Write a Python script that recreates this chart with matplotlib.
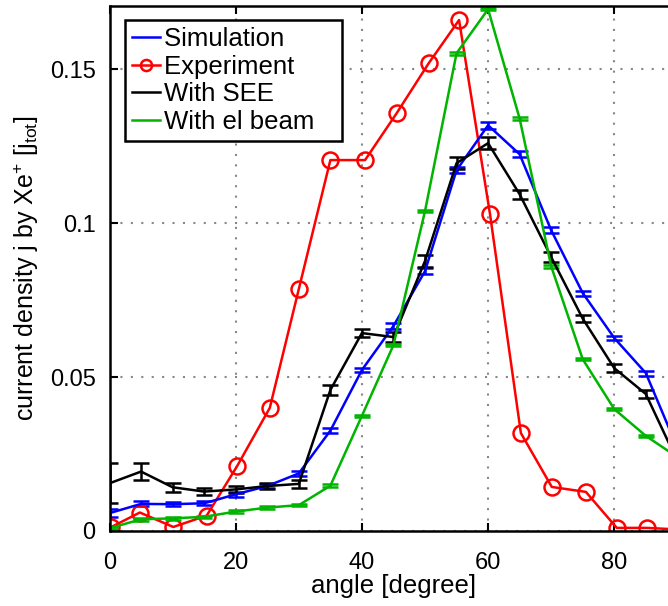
import matplotlib
matplotlib.use("Agg")
import matplotlib.pyplot as plt
from matplotlib.lines import Line2D

plt.rcParams['font.family'] = ['Liberation Sans', 'DejaVu Sans']
plt.rcParams['mathtext.default'] = 'regular'

# simulation angles (degree)
ang = [0, 5, 10, 15, 20, 25, 30, 35, 40, 45, 50, 55, 60, 65, 70, 75, 80, 85, 90]

sim = [0.0058, 0.0088, 0.0087, 0.0090, 0.0119, 0.0146, 0.0187, 0.0326, 0.0523, 0.0666,
       0.0844, 0.1172, 0.1318, 0.1224, 0.0977, 0.0773, 0.0627, 0.0513, 0.0270]
sim_err = [0.0012, 0.0008, 0.0006, 0.0006, 0.0007, 0.0006, 0.0008, 0.0008, 0.0008, 0.0010,
           0.0010, 0.0010, 0.0012, 0.0010, 0.0010, 0.0008, 0.0008, 0.0008, 0.0008]

see = [0.0155, 0.0193, 0.0142, 0.0128, 0.0135, 0.0146, 0.0153, 0.0458, 0.0643, 0.0630,
       0.0877, 0.1195, 0.1260, 0.1094, 0.0890, 0.0690, 0.0529, 0.0445, 0.0227]
see_err = [0.0065, 0.0027, 0.0014, 0.0012, 0.0012, 0.0010, 0.0012, 0.0015, 0.0012, 0.0015,
           0.0018, 0.0019, 0.0020, 0.0015, 0.0015, 0.0012, 0.0012, 0.0012, 0.0012]

beam = [0.0009, 0.0038, 0.0041, 0.0046, 0.0063, 0.0076, 0.0084, 0.0147, 0.0374, 0.0604,
        0.1039, 0.1552, 0.1695, 0.1340, 0.0860, 0.0558, 0.0396, 0.0309, 0.0240]
beam_err = [0.0004] * len(ang)

# experiment
exp_ang = [0.3, 4.8, 10.1, 15.4, 20.2, 25.4, 30.0, 35.0, 40.5, 45.5, 50.6, 55.4,
           60.3, 65.2, 70.1, 75.5, 80.4, 85.2, 90.0]
exp_val = [0.0013, 0.0060, 0.0013, 0.0050, 0.0210, 0.0400, 0.0786, 0.1205, 0.1205, 0.1357,
           0.1520, 0.1660, 0.1030, 0.0318, 0.0143, 0.0127, 0.0010, 0.0010, 0.0005]

labels = ['Simulation', 'Experiment', 'With SEE', 'With el beam']

fig = plt.figure(figsize=(6.68, 6.06), dpi=100)
ax = fig.add_axes([0.164, 0.1238, 0.85, 0.866])

lw = 1.8
green = '#00b400'
eb = dict(capsize=6, elinewidth=lw, capthick=lw, lw=lw)
ax.errorbar(ang, sim, yerr=sim_err, color='#0000ff', **eb)
ax.plot(exp_ang, exp_val, color='#ff0000', lw=lw, marker='o', ms=11.5, mfc='none', mew=lw)
ax.errorbar(ang, see, yerr=see_err, color='black', **eb)
ax.errorbar(ang, beam, yerr=beam_err, color=green, **eb)

ax.set_xlim(0, 90)
ax.set_ylim(0, 0.1705)
ax.set_xticks([0, 20, 40, 60, 80])
ax.set_yticks([0, 0.05, 0.1, 0.15])
ax.set_yticklabels(['0', '0.05', '0.1', '0.15'])
ax.tick_params(direction='in', length=6, width=1.5, top=True, right=True,
               labelsize=17)
ax.tick_params(axis='x', pad=15)
ax.tick_params(axis='y', pad=10)
ax.grid(True, color='#888888', linestyle=(0, (1, 4)), lw=1.5)
for s in ax.spines.values():
    s.set_linewidth(1.8)

ax.set_xlabel('angle [degree]', fontsize=18.5, labelpad=0)
ax.set_ylabel('current density j by Xe$^{+}$ [j$_{tot}$]', fontsize=18, labelpad=6)

handles = [Line2D([], [], color='#0000ff', lw=lw),
           Line2D([], [], color='#ff0000', lw=lw, marker='o', ms=8, mfc='none', mew=lw),
           Line2D([], [], color='black', lw=lw),
           Line2D([], [], color=green, lw=lw)]
# trailing spaces give the wider right margin of the original legend box
leg = ax.legend(handles, [l + '   ' for l in labels],
                loc='upper left', bbox_to_anchor=(0.028, 0.973), fontsize=18.5,
                fancybox=False, framealpha=1, edgecolor='black', handlelength=1.1,
                handletextpad=0.15, labelspacing=0.15, borderpad=0.25, borderaxespad=0)
leg.get_frame().set_linewidth(1.8)

fig.savefig('out.png', dpi=100)
